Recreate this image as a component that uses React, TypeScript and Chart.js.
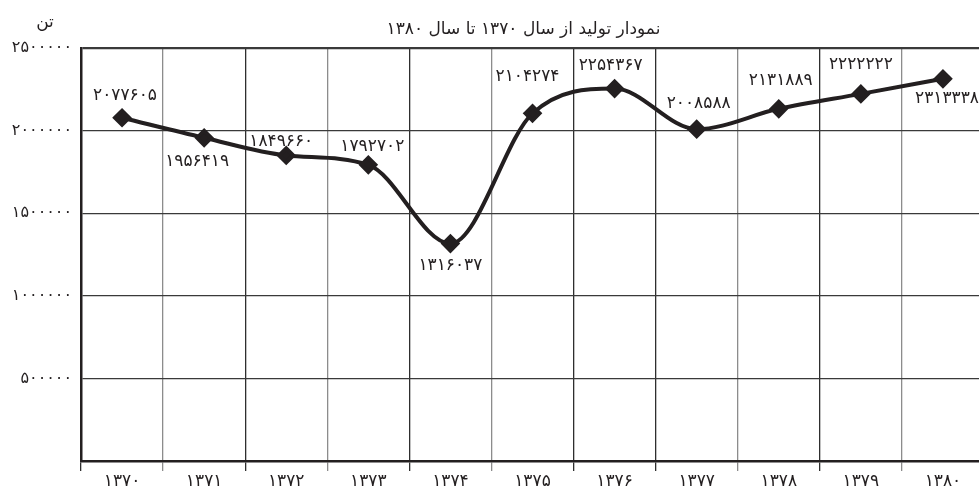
import { useEffect, useRef } from 'react';
import { Chart, registerables } from 'chart.js';

Chart.register(...registerables);

const years = ['۱۳۷۰', '۱۳۷۱', '۱۳۷۲', '۱۳۷۳', '۱۳۷۴', '۱۳۷۵', '۱۳۷۶', '۱۳۷۷', '۱۳۷۸', '۱۳۷۹', '۱۳۸۰'];
const production = [2077605, 1956419, 1849660, 1792702, 1316037, 2104274, 2254367, 2008588, 2131889, 2222222, 2313338];
const yMin = 0;
const yMax = 2500000;
const yStep = 500000;
const titleText = 'نمودار تولید از سال ۱۳۷۰ تا سال ۱۳۸۰';
const unitText = 'تن';

// label placement relative to each point (style only)
const labelOffsets = [[3, -22], [-7, 24], [-5, -14], [4, -18], [0, 22], [-5, -37], [-4, -23], [2, -26], [2, -28], [0, -29], [4, 20]];
const vGridShade = ['d', 'g', 'd', 'g', 'd', 'g', 'd', 'd', 'g', 'd', 'g', 'd'];

const INK = '#231f20';
const FONT = "'DejaVu Sans', sans-serif";
const toFa = (n: number | string) => String(n).replace(/\d/g, (d) => '۰۱۲۳۴۵۶۷۸۹'[Number(d)]);

const labelPlugin = {
  id: 'pointLabels',
  afterDatasetsDraw(chart: any) {
    const ctx = chart.ctx;
    const meta = chart.getDatasetMeta(0);
    const ca = chart.chartArea;
    ctx.save();
    ctx.fillStyle = INK;
    ctx.textAlign = 'center';
    ctx.textBaseline = 'middle';
    ctx.font = `17px ${FONT}`;
    meta.data.forEach((pt: any, i: number) => {
      const [dx, dy] = labelOffsets[i];
      ctx.fillText(toFa(production[i]), pt.x + dx, pt.y + dy);
    });
    // unit label
    ctx.fillText(unitText, ca.left - 36, ca.top - 25);
    // title
    ctx.fillText(titleText, ca.left + ca.width * 0.49, ca.top - 18);
    ctx.restore();
  },
};

export default function App() {
  const ref = useRef<HTMLCanvasElement | null>(null);
  useEffect(() => {
    if (!ref.current) return;
    const chart = new Chart(ref.current, {
      type: 'line',
      data: {
        labels: years,
        datasets: [
          {
            data: production,
            borderColor: INK,
            backgroundColor: INK,
            borderWidth: 4,
            pointStyle: 'rectRot',
            pointRadius: 7,
            pointBackgroundColor: INK,
            pointBorderColor: INK,
            cubicInterpolationMode: 'monotone',
            fill: false,
          },
        ],
      },
      options: {
        responsive: false,
        animation: false,
        devicePixelRatio: 1,
        layout: { padding: { top: 48, left: 0, right: 0, bottom: 0 } },
        plugins: {
          legend: { display: false },
          tooltip: { enabled: false },
          title: { display: false },
        },
        scales: {
          x: {
            offset: true,
            grid: {
              offset: true,
              drawTicks: true,
              tickLength: 10,
              color: (c: any) => (vGridShade[c.index] === 'g' ? '#8c8c8c' : '#2e2e2e'),
              lineWidth: 1.3,
            },
            border: { display: true, color: INK, width: 2.5 },
            ticks: {
              color: INK,
              font: { family: FONT, size: 17 },
              padding: 0,
              maxRotation: 0,
              autoSkip: false,
            },
            afterFit: (s: any) => {
              s.height = 26;
            },
          },
          y: {
            min: yMin,
            max: yMax,
            ticks: {
              stepSize: yStep,
              color: INK,
              font: { family: FONT, size: 16 },
              padding: 9,
              callback: (v: any) => (Number(v) === 0 ? '' : toFa(v)),
            },
            grid: {
              drawTicks: false,
              color: '#3a3a3a',
              lineWidth: (c: any) => (c.tick && c.tick.value === yMax ? 2.2 : 1.3),
            },
            border: { display: true, color: INK, width: 2.5 },
            afterFit: (s: any) => {
              s.width = 81;
            },
          },
        },
      },
      plugins: [labelPlugin],
    } as any);
    return () => chart.destroy();
  }, []);

  return (
    <div style={{ position: 'absolute', left: 0, top: 0, width: 979, height: 487, overflow: 'hidden', background: '#fff' }}>
      <div style={{ width: 995, height: 487 }}>
        <canvas ref={ref} width={995} height={487} style={{ width: 995, height: 487, display: 'block' }} />
      </div>
    </div>
  );
}
